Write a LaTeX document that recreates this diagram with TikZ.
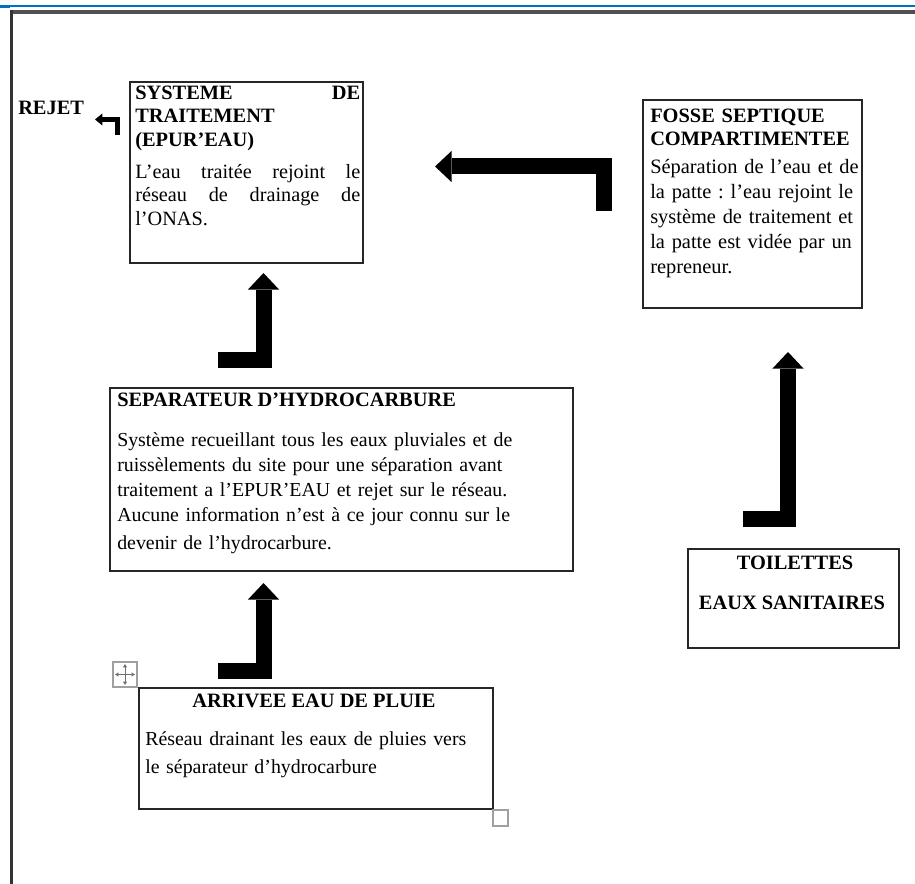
\documentclass[tikz,border=0pt]{standalone}
\usepackage{fontspec}
\setmainfont{Liberation Serif}
\usetikzlibrary{arrows.meta,fit}
\definecolor{wordblue}{RGB}{0,112,192}
\definecolor{framegray}{RGB}{80,80,80}
\definecolor{handlegray}{RGB}{160,160,160}
\frenchspacing
\begin{document}
\begin{tikzpicture}[x=0.75pt,y=-0.75pt,
  box/.style={draw=black!85, line width=1.3pt, inner sep=0pt, fill=none},
  txt/.style={inner sep=0pt, align=left, font=\fontsize{14.9pt}{18.75pt}\selectfont},
  hd/.style={txt, font=\fontsize{15.3pt}{17.5pt}\selectfont\bfseries},
  blockarrow/.style={line width=12pt, line join=miter, line cap=butt,
     -{Triangle[length=12.5pt, width=23.5pt, line width=0pt]}},
  smallarrow/.style={line width=3.8pt, line join=miter, line cap=butt,
     -{Triangle[length=5.5pt, width=9pt, line width=0pt]}}
]
\useasboundingbox (0,0) rectangle (915,884);
% page frame
\fill[wordblue] (0,5.5) rectangle (915,7.5);
\fill[wordblue] (0,5.5) rectangle (10,8.5);
\fill[framegray] (10,10) rectangle (915,14);
\fill[black!80] (10,10) rectangle (12.5,884);

% boxes
\node[box, fit={(130,82) (363,263)}] (sys) {};
\node[box, fit={(643,100) (862,308)}] (fosse) {};
\node[box, fit={(110,388) (573,571)}] (sep) {};
\node[box, fit={(139,688) (493,809)}] (arr) {};
\node[box, fit={(688,549) (899,648)}] (toil) {};

% SYSTEME
\node[hd, anchor=base west, text width=225*0.75pt, align=justify] (syshd) at (135,99.5)
  {SYSTEME\hfill DE\\TRAITEMENT\\(EPUR’EAU)};
\node[txt, anchor=base west, text width=225*0.75pt, align=justify,
      font=\fontsize{15.2pt}{17.6pt}\selectfont] (sysbody) at (135,178.5)
  {L’eau traitée rejoint le\linebreak réseau de drainage de\linebreak l’ONAS.};

% REJET
\node[hd, anchor=base west] (rejet) at (18,115) {REJET};

% FOSSE
\node[hd, anchor=base west, text width=212*0.75pt,
      font=\fontsize{15.3pt}{17.25pt}\selectfont\bfseries] (fossehd) at (650,122.5)
  {FOSSE SEPTIQUE\\COMPARTIMENTEE};
\node[txt, anchor=base west, text width=260*0.75pt,
      font=\fontsize{15.3pt}{18.75pt}\selectfont] (fossebody) at (650,173.5)
  {Séparation de l’eau et de\\la patte : l’eau rejoint le\\système de traitement et\\la patte est vidée par un\\repreneur.};

% SEPARATEUR
\node[hd, anchor=base west] (sephd) at (117,406.5) {SEPARATEUR D’HYDROCARBURE};
\node[txt, anchor=base west, text width=452*0.75pt] (sepbody) at (117,446.5)
  {Système recueillant tous les eaux pluviales et de\\ruissèlements du site pour une séparation avant\\traitement a l’EPUR’EAU et rejet sur le réseau.\\Aucune information n’est à ce jour connu sur le\\[2pt]devenir de l’hydrocarbure.};

% ARRIVEE
\node[hd, anchor=base] (arrhd) at (314,707.5) {ARRIVEE EAU DE PLUIE};
\node[txt, anchor=base west, text width=345*0.75pt,
      font=\fontsize{14.9pt}{21pt}\selectfont] (arrbody) at (145,745.5)
  {Réseau drainant les eaux de pluies vers\\le séparateur d’hydrocarbure};

% TOILETTES
\node[hd, anchor=base] (toilhd1) at (795,569.5) {TOILETTES};
\node[hd, anchor=base] (toilhd2) at (792,609.5) {EAUX SANITAIRES};

% arrow coordinates
\coordinate (a1s) at (603.5,211);
\coordinate (a1t) at (435,166.5);
\coordinate (a2s) at (218,360.5);
\coordinate (a2t) at (263.5,273);
\coordinate (a3s) at (218,671);
\coordinate (a3t) at (263.5,583);
\coordinate (a4s) at (743,519.5);
\coordinate (a4t) at (788,352);
\coordinate (a5s) at (117.5,135);
\coordinate (a5t) at (95,119.5);

\draw[blockarrow] (a1s) |- (a1t);
\draw[blockarrow] (a2s) -| (a2t);
\draw[blockarrow] (a3s) -| (a3t);
\draw[blockarrow] (a4s) -| (a4t);
\draw[smallarrow] (a5s) |- (a5t);

% Word handles
\node[draw=handlegray, line width=0.9pt, fit={(113,662) (137,687)}, inner sep=0pt] (movehandle) {};
\draw[handlegray!70!black, line width=0.6pt, {Triangle[length=2.5pt,width=3pt]}-{Triangle[length=2.5pt,width=3pt]}]
  ([xshift=2pt]movehandle.west) -- ([xshift=-2pt]movehandle.east);
\draw[handlegray!70!black, line width=0.6pt, {Triangle[length=2.5pt,width=3pt]}-{Triangle[length=2.5pt,width=3pt]}]
  ([yshift=-2pt]movehandle.north) -- ([yshift=2pt]movehandle.south);
\node[draw=handlegray, line width=0.9pt, fit={(493,810) (508,826)}, inner sep=0pt] (sizehandle) {};
\end{tikzpicture}
\end{document}
